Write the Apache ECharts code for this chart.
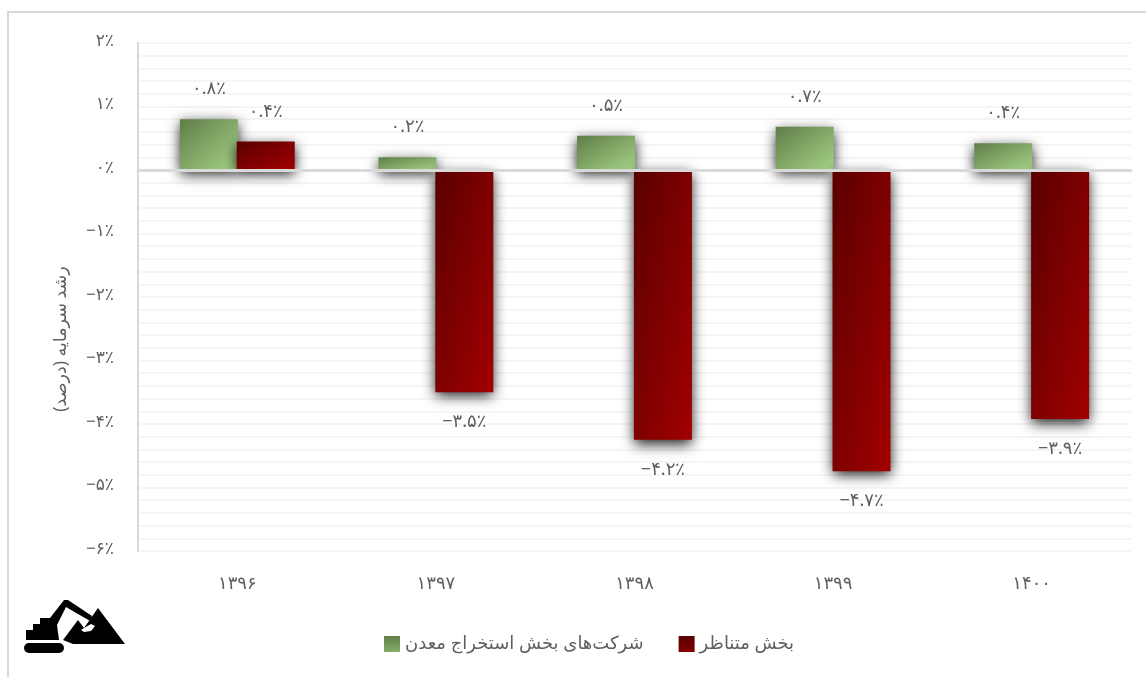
<!DOCTYPE html>
<html lang="fa">
<head>
<meta charset="utf-8">
<style>html,body{margin:0;padding:0;background:#fff}#c{width:1146px;height:677px}</style>
<script src="https://cdn.jsdelivr.net/npm/echarts@6/dist/echarts.min.js"></script>
</head>
<body>
<div id="c"></div>
<script>
const categories = ['۱۳۹۶', '۱۳۹۷', '۱۳۹۸', '۱۳۹۹', '۱۴۰۰'];
const miningValues = [0.8, 0.2, 0.54, 0.68, 0.42];
const peerValues = [0.449, -3.5, -4.249, -4.745, -3.92];
const miningName = 'شرکت‌های بخش استخراج معدن';
const peerName = 'بخش متناظر';
const axisTitle = '\u202Bرشد سرمایه (درصد)\u202C';

const FONT = '"Noto Sans", "DejaVu Sans", sans-serif';
const TEXT = '#5f5f5f';
const toFa = s => String(s).replace(/\d/g, d => '۰۱۲۳۴۵۶۷۸۹'[d]);
const pct = (v, digits) => (v < 0 ? '−' : '') + toFa(Math.abs(v).toFixed(digits)) + '٪';

const GREEN = ['#5f7d48', '#a5d286'];
const RED = ['#5a0000', '#a20000'];
const BAR_W = 58;
const PX_PER_UNIT = 63.5;

// Gradient whose iso-lines run along the bar's anti-diagonal (scaled 45 degrees).
const scaledGrad = (v, c) => {
  const h = Math.abs(v) * PX_PER_UNIT, w = BAR_W, d = h * h + w * w;
  return new echarts.graphic.LinearGradient(0, 0, 2 * h * h / d, 2 * w * w / d, [
    { offset: 0, color: c[0] }, { offset: 1, color: c[1] }
  ]);
};
const styled = (vals, c) => vals.map(v => ({
  value: v,
  itemStyle: {
    color: scaledGrad(v, c),
    shadowColor: 'rgba(0,0,0,0.9)',
    shadowBlur: 13,
    shadowOffsetY: 4
  }
}));
const label = {
  show: true,
  position: 'outside',
  distance: 21,
  color: TEXT,
  fontFamily: FONT,
  fontSize: 18,
  formatter: p => pct(p.value, 1)
};

const chart = echarts.init(document.getElementById('c'), null, { renderer: 'canvas' });
chart.setOption({
  animation: false,
  backgroundColor: '#fff',
  textStyle: { fontFamily: FONT },
  grid: { left: 138, right: 15, top: 43, height: 508 },
  legend: {
    left: 379,
    top: 630,
    itemWidth: 16,
    itemHeight: 16,
    itemGap: 35,
    selectedMode: false,
    textStyle: { color: TEXT, fontSize: 18, fontFamily: FONT },
    data: [
      { name: miningName, icon: 'rect', itemStyle: { color: scaledGrad(0.25, GREEN), shadowBlur: 0, shadowOffsetY: 0 } },
      { name: peerName, icon: 'rect', itemStyle: { color: scaledGrad(0.25, RED), shadowBlur: 0, shadowOffsetY: 0 } }
    ]
  },
  xAxis: [
    {
      type: 'category',
      data: categories,
      position: 'bottom',
      axisLine: { show: false, onZero: false },
      axisTick: { show: false },
      axisLabel: { color: TEXT, fontSize: 18, fontFamily: FONT, margin: 24 }
    },
    {
      type: 'category',
      data: categories,
      position: 'bottom',
      z: 5,
      axisLine: { show: true, onZero: true, lineStyle: { color: '#d9d9d9', width: 3 } },
      axisTick: { show: false },
      axisLabel: { show: false }
    }
  ],
  yAxis: {
    type: 'value',
    min: -6,
    max: 2,
    interval: 1,
    name: axisTitle,
    nameLocation: 'middle',
    nameGap: 68,
    nameRotate: 90,
    nameTextStyle: { color: TEXT, fontSize: 17.5, fontFamily: FONT, padding: [0, 84, 0, 0] },
    axisLine: { show: true, lineStyle: { color: '#d9d9d9', width: 2 } },
    axisTick: { show: false },
    axisLabel: { color: TEXT, fontSize: 17, fontFamily: FONT, margin: 24, verticalAlign: 'bottom', lineHeight: 4, formatter: v => pct(v, 0) },
    splitLine: { show: true, lineStyle: { color: '#f2f2f2', width: 1.5 } },
    minorTick: { show: false, splitNumber: 5 },
    minorSplitLine: { show: true, lineStyle: { color: '#f2f2f2', width: 1.5 } }
  },
  series: [
    {
      name: miningName,
      type: 'bar',
      data: styled(miningValues, GREEN),
      barWidth: BAR_W,
      barGap: '-2%',
      itemStyle: { color: GREEN[1] },
      label
    },
    {
      name: peerName,
      type: 'bar',
      data: styled(peerValues, RED),
      barWidth: BAR_W,
      itemStyle: { color: RED[1] },
      label
    }
  ],
  graphic: [
    { type: 'rect', z: -1, silent: true, shape: { x: 8, y: 12, width: 1300, height: 800 },
      style: { fill: 'none', stroke: '#d9d9d9', lineWidth: 2 } },
    { type: 'rect', silent: true, shape: { x: 24, y: 643, width: 40, height: 10, r: 5 }, style: { fill: '#000' } },
    { type: 'polygon', silent: true, shape: { points: [[26,640],[26,630],[33,630],[33,624],[40,624],[40,618],[50,618],[64,600],[68,600],[92,616],[90,621],[66,607],[57,625],[59,640]] }, style: { fill: '#000' } },
    { type: 'polygon', silent: true, shape: { points: [[63,640],[78,620],[84,628],[98,608],[125,644],[73,644]] }, style: { fill: '#000' } },
    { type: 'polygon', silent: true, shape: { points: [[84,628],[91,624],[95,626],[91,631],[84,632],[81,630]] }, style: { fill: '#fff' } }
  ]
});
</script>
</body>
</html>
